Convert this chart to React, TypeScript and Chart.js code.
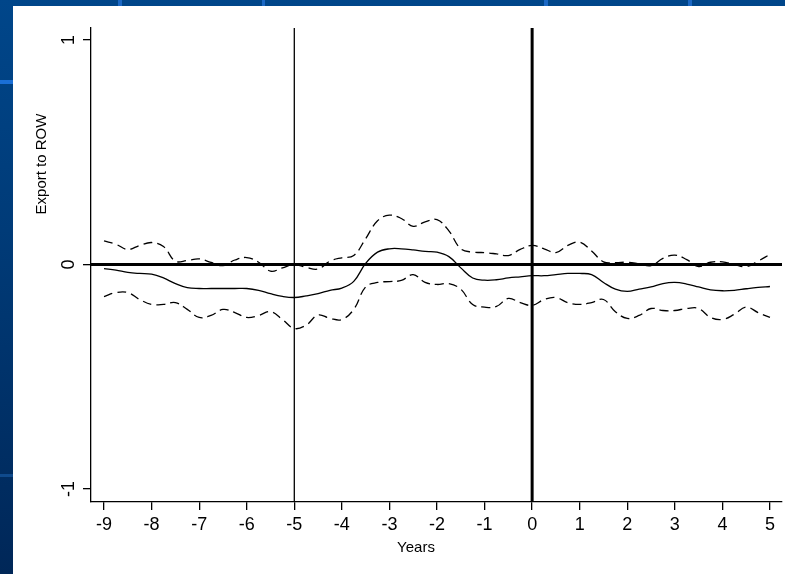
import React, { useEffect, useRef } from "react";
import { Chart, registerables } from "chart.js";

Chart.register(...registerables);

// ---- data ----
const years = [
  -9, -8.75, -8.5, -8.25, -8, -7.75, -7.5, -7.25, -7, -6.75, -6.5, -6.25, -6, -5.75, -5.5, -5.25,
  -5, -4.75, -4.5, -4.25, -4, -3.75, -3.5, -3.25, -3, -2.75, -2.5, -2.25, -2, -1.75, -1.5, -1.25,
  -1, -0.75, -0.5, -0.25, 0, 0.25, 0.5, 0.75, 1, 1.25, 1.5, 1.75, 2, 2.25, 2.5, 2.75,
  3, 3.25, 3.5, 3.75, 4, 4.25, 4.5, 4.75, 5,
];

const estimate = [
  -0.018, -0.025, -0.035, -0.04, -0.043, -0.06, -0.085, -0.103, -0.107, -0.107, -0.107, -0.107, -0.107, -0.115, -0.13, -0.142,
  -0.147, -0.14, -0.13, -0.115, -0.105, -0.075, 0.005, 0.055, 0.07, 0.07, 0.065, 0.058, 0.055, 0.035, -0.015, -0.06,
  -0.07, -0.068, -0.06, -0.055, -0.05, -0.05, -0.045, -0.04, -0.04, -0.045, -0.08, -0.11, -0.12, -0.11, -0.1, -0.085,
  -0.08, -0.087, -0.1, -0.113, -0.117, -0.115, -0.108, -0.102, -0.098,
];

const upperCI = [
  0.105, 0.09, 0.067, 0.085, 0.098, 0.08, 0.015, 0.018, 0.025, 0.009, -0.005, 0.02, 0.031, 0.01, -0.03, -0.015,
  0, -0.013, -0.02, 0.015, 0.03, 0.04, 0.115, 0.195, 0.22, 0.205, 0.17, 0.19, 0.2, 0.15, 0.07, 0.055,
  0.053, 0.047, 0.04, 0.067, 0.085, 0.07, 0.053, 0.085, 0.1, 0.06, 0.012, 0.008, 0.01, 0.003, -0.005, 0.027,
  0.042, 0.022, -0.009, 0.01, 0.012, 0, -0.01, 0.015, 0.045,
];

const lowerCI = [
  -0.143, -0.125, -0.125, -0.156, -0.178, -0.178, -0.17, -0.2, -0.236, -0.227, -0.2, -0.214, -0.236, -0.227, -0.21, -0.245,
  -0.285, -0.27, -0.225, -0.24, -0.245, -0.2, -0.1, -0.08, -0.076, -0.071, -0.045, -0.08, -0.089, -0.085, -0.11, -0.178,
  -0.19, -0.187, -0.151, -0.17, -0.182, -0.156, -0.147, -0.17, -0.178, -0.17, -0.156, -0.21, -0.24, -0.227, -0.196, -0.205,
  -0.205, -0.196, -0.196, -0.236, -0.245, -0.222, -0.19, -0.214, -0.236,
];

const xTickValues = [-9, -8, -7, -6, -5, -4, -3, -2, -1, 0, 1, 2, 3, 4, 5];
const yTickValues = [-1, 0, 1];
const xRange = [-9.274, 5.253];
const yRange = [-1.058, 1.0535];
const thinRefYear = -5;
const thickRefYear = 0;
const zeroLevel = 0;
const yTitle = "Export to ROW";
const xTitle = "Years";

const FONT = "'Liberation Sans', Arial, Helvetica, sans-serif";

const titlesPlugin = {
  id: "stataTitles",
  afterDraw(chart: any) {
    const { ctx, chartArea } = chart;
    ctx.save();
    ctx.fillStyle = "#000";
    ctx.font = `15px ${FONT}`;
    ctx.textAlign = "center";
    ctx.textBaseline = "alphabetic";
    // x title
    ctx.fillText(xTitle, chartArea.left + 325, chartArea.bottom + 50);
    // y title
    ctx.translate(chartArea.left - 45, chartArea.top + 136);
    ctx.rotate(-Math.PI / 2);
    ctx.fillText(yTitle, 0, 0);
    ctx.restore();
  },
};

export default function App() {
  const ref = useRef<HTMLCanvasElement | null>(null);

  useEffect(() => {
    if (!ref.current) return;
    const black = "#000";
    const series = (vals: number[]) => years.map((x, i) => ({ x, y: vals[i] }));
    const chart = new Chart(ref.current, {
      type: "line",
      data: {
        datasets: [
          {
            label: "zero",
            data: [
              { x: xRange[0], y: zeroLevel },
              { x: xRange[1], y: zeroLevel },
            ],
            borderColor: black,
            borderWidth: 3,
            pointRadius: 0,
          },
          {
            label: "ref -5",
            data: [
              { x: thinRefYear, y: yRange[0] },
              { x: thinRefYear, y: yRange[1] },
            ],
            borderColor: black,
            borderWidth: 1.3,
            pointRadius: 0,
          },
          {
            label: "ref 0",
            data: [
              { x: thickRefYear, y: yRange[0] },
              { x: thickRefYear, y: yRange[1] },
            ],
            borderColor: black,
            borderWidth: 3,
            pointRadius: 0,
          },
          {
            label: "estimate",
            data: series(estimate),
            borderColor: black,
            borderWidth: 1.3,
            pointRadius: 0,
            tension: 0.4,
          },
          {
            label: "upper",
            data: series(upperCI),
            borderColor: black,
            borderWidth: 1.3,
            borderDash: [9, 5],
            pointRadius: 0,
            tension: 0.4,
          },
          {
            label: "lower",
            data: series(lowerCI),
            borderColor: black,
            borderWidth: 1.3,
            borderDash: [9, 5],
            pointRadius: 0,
            tension: 0.4,
          },
        ],
      },
      options: {
        responsive: false,
        animation: false,
        devicePixelRatio: 1,
        layout: { padding: { left: 0, top: 28, right: 3, bottom: 0 } },
        plugins: {
          legend: { display: false },
          tooltip: { enabled: false },
          title: { display: false },
        },
        elements: { line: { borderCapStyle: "butt" } },
        scales: {
          x: {
            type: "linear",
            min: xRange[0],
            max: xRange[1],
            afterBuildTicks: (s: any) => {
              s.ticks = xTickValues.map((v) => ({ value: v }));
            },
            afterFit: (s: any) => {
              s.height = 72;
            },
            grid: {
              drawOnChartArea: false,
              drawTicks: true,
              tickLength: 8,
              color: black,
              lineWidth: 1.3,
            },
            border: { display: true, color: black, width: 1.3 },
            ticks: {
              color: black,
              font: { family: FONT, size: 18 },
              padding: 4,
              maxRotation: 0,
              autoSkip: false,
              callback: (v: any) => String(v),
            },
          },
          y: {
            type: "linear",
            min: yRange[0],
            max: yRange[1],
            afterBuildTicks: (s: any) => {
              s.ticks = yTickValues.map((v) => ({ value: v }));
            },
            afterFit: (s: any) => {
              s.width = 91;
            },
            grid: {
              drawOnChartArea: false,
              drawTicks: true,
              tickLength: 8,
              color: black,
              lineWidth: 1.3,
            },
            border: { display: true, color: black, width: 1.3 },
            ticks: {
              color: black,
              font: { family: FONT, size: 18 },
              padding: 6,
              minRotation: 90,
              maxRotation: 90,
              crossAlign: "center",
              autoSkip: false,
              callback: (v: any) => String(v),
            },
          },
        },
      },
      plugins: [titlesPlugin],
    });
    return () => chart.destroy();
  }, []);

  const streak = (style: React.CSSProperties) => (
    <div style={{ position: "absolute", background: "#1b68c4", ...style }} />
  );

  return (
    <div
      style={{
        position: "fixed",
        left: 0,
        top: 0,
        width: 785,
        height: 574,
        overflow: "hidden",
        background: "linear-gradient(to bottom, #00468a 0%, #003b78 40%, #002758 100%)",
      }}
    >
      {streak({ left: 118, top: 0, width: 4, height: 6 })}
      {streak({ left: 262, top: 0, width: 3, height: 6 })}
      {streak({ left: 544, top: 0, width: 4, height: 6 })}
      {streak({ left: 688, top: 0, width: 4, height: 6 })}
      {streak({ left: 0, top: 80, width: 13, height: 4, background: "#1a6fd6" })}
      {streak({ left: 0, top: 474, width: 13, height: 3, background: "#0f4a8c" })}
      <div
        style={{
          position: "absolute",
          left: 13,
          top: 6,
          width: 772,
          height: 568,
          background: "#fff",
        }}
      />
      <canvas
        ref={ref}
        width={785}
        height={574}
        style={{ position: "absolute", left: 0, top: 0, width: 785, height: 574 }}
      />
    </div>
  );
}
